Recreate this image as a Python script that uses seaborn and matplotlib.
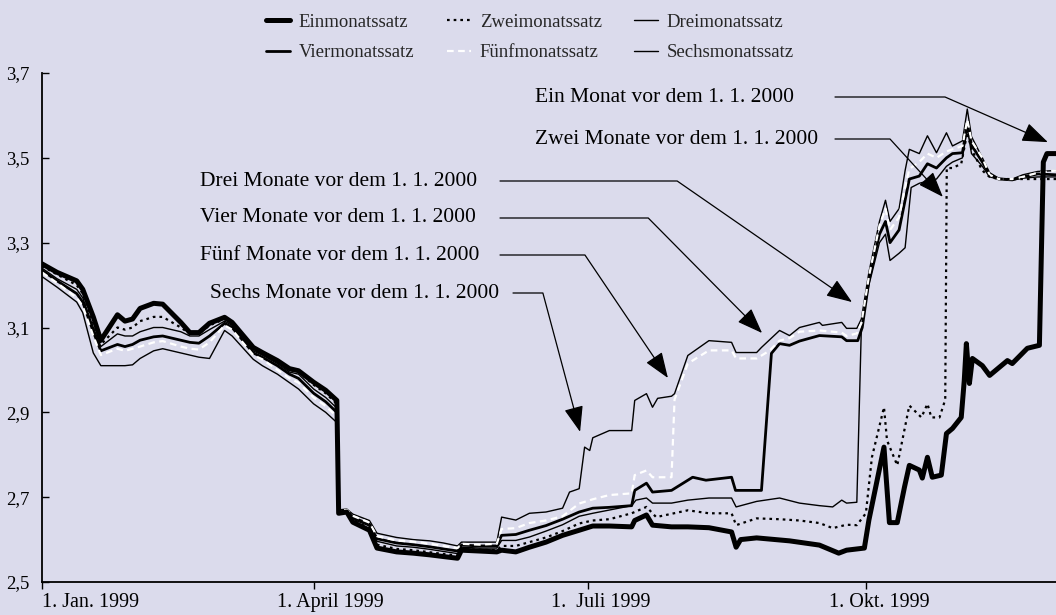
import numpy as np
import pandas as pd
import matplotlib
matplotlib.use("Agg")
import matplotlib.pyplot as plt
import matplotlib.transforms as mtransforms
from matplotlib.lines import Line2D
import seaborn as sns

# ---------------- data (days after 1 Jan 1999, rate in %) ----------------
common_days = [0, 5, 11.5, 13.5, 17, 19.5, 25, 27.5, 30, 32.5,
               37, 40, 46, 49, 52, 55.5, 60.5, 63, 70, 73,
               78, 82, 85, 90, 94, 97.7, 98.3, 101, 103, 108.5,
               111, 117.5, 123, 128.5, 133, 137.7, 139, 145, 150.7, 152.3]

ein_days = common_days + [157, 161.5, 167, 172.5, 178, 182.5, 188, 195.4, 196.4, 200.3,
                          202.3, 208.6, 214, 221, 228.5, 230, 231.5, 236.8, 247.7, 257.6,
                          264, 266.6, 272.5, 274, 279, 280.8, 283.4, 285.8, 287.4, 290.7,
                          291.7, 293.4, 295, 298, 299.7, 301.7, 304.6, 305.6, 306.3, 307.3,
                          308.3, 311.6, 314, 319.9, 321.5, 326.5, 330.5, 331.8, 333, 336]
ein_vals = [3.25, 3.23, 3.21, 3.19, 3.125, 3.07, 3.13, 3.115, 3.12, 3.145,
            3.157, 3.155, 3.112, 3.088, 3.088, 3.11, 3.124, 3.112, 3.053, 3.041,
            3.022, 3.003, 2.998, 2.971, 2.952, 2.928, 2.662, 2.665, 2.641, 2.622,
            2.58, 2.571, 2.568, 2.564, 2.56, 2.556, 2.575, 2.573, 2.571, 2.575,
            2.571, 2.582, 2.594, 2.61, 2.622, 2.632, 2.632, 2.63, 2.645, 2.658,
            2.634, 2.63, 2.63, 2.628, 2.618, 2.582, 2.6, 2.604, 2.597, 2.587,
            2.568, 2.575, 2.58, 2.646, 2.818, 2.64, 2.64, 2.724, 2.775, 2.764,
            2.745, 2.794, 2.747, 2.752, 2.85, 2.862, 2.888, 2.975, 3.062, 2.968,
            3.027, 3.01, 2.987, 3.022, 3.015, 3.051, 3.058, 3.49, 3.51, 3.51]

zwei_days = common_days + [157, 161.5, 167, 172.5, 178, 182.5, 188, 195.4, 200.3, 203.5,
                           214, 221, 228.5, 230, 236.8, 244.4, 251, 257.6, 262, 266.6,
                           270, 273, 275, 279, 280, 283.4, 287.4, 291.4, 293.4, 294.7,
                           297.4, 299.3, 299.8, 301.7, 304.6, 306.6, 308, 311.6, 314, 317,
                           325, 336]
zwei_vals = [3.245, 3.225, 3.20, 3.18, 3.11, 3.06, 3.10, 3.095, 3.10, 3.115,
             3.125, 3.125, 3.10, 3.085, 3.085, 3.105, 3.12, 3.11, 3.05, 3.04,
             3.02, 3.00, 2.995, 2.965, 2.945, 2.92, 2.665, 2.664, 2.645, 2.627,
             2.588, 2.578, 2.575, 2.57, 2.566, 2.562, 2.578, 2.576, 2.575, 2.585,
             2.585, 2.594, 2.605, 2.62, 2.638, 2.645, 2.648, 2.662, 2.677, 2.653,
             2.669, 2.662, 2.662, 2.634, 2.65, 2.648, 2.645, 2.639, 2.627, 2.635,
             2.634, 2.662, 2.794, 2.912, 2.834, 2.775, 2.916, 2.888, 2.92, 2.888,
             2.888, 2.93, 3.476, 3.476, 3.486, 3.56, 3.52, 3.47, 3.455, 3.45,
             3.45, 3.45]

drei_days = common_days + [157, 161.5, 167, 172.5, 178, 182.5, 195.4, 196.8, 200.3, 202.3,
                           208.6, 214, 221, 228.5, 230, 236.8, 244.4, 251, 257.6, 262,
                           265, 266.6, 270, 271.5, 274, 277.5, 279.5, 281, 284, 286,
                           288, 290.7, 293.4, 296.4, 299.7, 301.7, 305, 306.6, 308, 311.6,
                           314, 317, 321.5, 325, 330, 336]
drei_vals = [3.24, 3.215, 3.19, 3.17, 3.10, 3.055, 3.085, 3.08, 3.08, 3.09,
             3.10, 3.10, 3.09, 3.08, 3.08, 3.095, 3.115, 3.105, 3.045, 3.035,
             3.015, 2.995, 2.99, 2.955, 2.935, 2.91, 2.665, 2.666, 2.648, 2.632,
             2.596, 2.585, 2.582, 2.577, 2.572, 2.567, 2.582, 2.58, 2.58, 2.598,
             2.598, 2.606, 2.62, 2.635, 2.655, 2.662, 2.68, 2.693, 2.698, 2.686,
             2.686, 2.693, 2.698, 2.698, 2.677, 2.69, 2.698, 2.686, 2.68, 2.677,
             2.693, 2.686, 2.688, 3.10, 3.20, 3.30, 3.32, 3.258, 3.275, 3.288,
             3.43, 3.44, 3.445, 3.45, 3.48, 3.49, 3.50, 3.57, 3.51, 3.48,
             3.455, 3.45, 3.448, 3.452, 3.455, 3.455]

vier_days = common_days + [157, 161.5, 167, 172.5, 178, 182.5, 188, 195.4, 196.4, 200.3,
                           202.3, 208.6, 215.6, 220, 228.5, 229.8, 236.8, 238.4, 241.7, 244.4,
                           247.7, 251, 257.6, 265, 266.6, 270.3, 271.8, 274, 277.5, 279.5,
                           281, 284, 286, 287.4, 290.7, 293.4, 296.4, 299.7, 301.7, 305,
                           306.6, 308, 311.6, 314, 317, 321.5, 325, 330, 336]
vier_vals = [3.235, 3.21, 3.18, 3.16, 3.09, 3.045, 3.06, 3.055, 3.06, 3.07,
             3.078, 3.08, 3.07, 3.065, 3.063, 3.08, 3.11, 3.10, 3.04, 3.03,
             3.01, 2.99, 2.98, 2.945, 2.925, 2.90, 2.665, 2.668, 2.652, 2.636,
             2.602, 2.592, 2.588, 2.583, 2.578, 2.573, 2.587, 2.585, 2.585, 2.61,
             2.612, 2.622, 2.633, 2.648, 2.665, 2.674, 2.676, 2.68, 2.716, 2.733,
             2.712, 2.716, 2.747, 2.74, 2.747, 2.716, 2.716, 2.716, 3.039, 3.062,
             3.058, 3.068, 3.081, 3.078, 3.069, 3.069, 3.10, 3.21, 3.32, 3.35,
             3.30, 3.33, 3.40, 3.45, 3.457, 3.486, 3.476, 3.50, 3.51, 3.512,
             3.58, 3.53, 3.49, 3.46, 3.45, 3.448, 3.455, 3.462, 3.46]

fuenf_days = common_days + [157, 161.5, 167, 172.5, 178, 182.5, 188, 195.4, 196.4, 200.3,
                            202.3, 208.6, 209.6, 214, 221, 228.5, 230, 236.8, 241, 244.4,
                            247.7, 251, 257.6, 265, 266.6, 270, 271.5, 274, 277.5, 279.5,
                            281, 284, 286, 287.4, 290.7, 293.4, 296.4, 299.7, 301.7, 305,
                            306.6, 308, 311.6, 314, 317, 321.5, 325, 330, 336]
fuenf_vals = [3.23, 3.205, 3.17, 3.15, 3.08, 3.035, 3.05, 3.045, 3.05, 3.055,
              3.065, 3.068, 3.055, 3.05, 3.048, 3.065, 3.105, 3.095, 3.035, 3.025,
              3.00, 2.98, 2.97, 2.935, 2.915, 2.89, 2.668, 2.67, 2.656, 2.64,
              2.608, 2.598, 2.595, 2.59, 2.585, 2.58, 2.59, 2.588, 2.59, 2.625,
              2.627, 2.639, 2.645, 2.655, 2.685, 2.695, 2.705, 2.709, 2.752, 2.763,
              2.747, 2.747, 2.93, 3.015, 3.046, 3.046, 3.027, 3.027, 3.045, 3.069,
              3.075, 3.09, 3.093, 3.088, 3.08, 3.086, 3.11, 3.22, 3.34, 3.38,
              3.33, 3.36, 3.43, 3.474, 3.49, 3.51, 3.50, 3.515, 3.52, 3.528,
              3.59, 3.54, 3.50, 3.46, 3.45, 3.45, 3.455, 3.465, 3.47]

sechs_days = common_days + [157, 161.5, 167, 172.5, 174.8, 178, 179.8, 181.5, 182.5, 188,
                            195.4, 196.4, 200.3, 202.3, 204, 208.6, 209.6, 214, 221, 228.5,
                            230, 236.8, 238.4, 244.4, 247.7, 251, 257.6, 258.6, 265, 266.6,
                            270, 271.5, 274, 277.5, 279.5, 281, 284, 286, 287.4, 290.7,
                            293.4, 296.4, 299.7, 301.7, 305, 306.6, 308, 311.6, 314, 317,
                            321.5, 325, 330, 336]
sechs_vals = [3.22, 3.195, 3.16, 3.135, 3.04, 3.01, 3.01, 3.01, 3.012, 3.027,
              3.045, 3.05, 3.04, 3.035, 3.03, 3.027, 3.093, 3.08, 3.025, 3.01,
              2.99, 2.97, 2.955, 2.92, 2.90, 2.876, 2.67, 2.672, 2.66, 2.645,
              2.615, 2.605, 2.60, 2.597, 2.592, 2.585, 2.594, 2.594, 2.594, 2.653,
              2.646, 2.662, 2.665, 2.674, 2.712, 2.72, 2.818, 2.81, 2.84, 2.857,
              2.857, 2.928, 2.944, 2.912, 2.933, 2.938, 2.944, 3.034, 3.069, 3.065,
              3.041, 3.041, 3.053, 3.093, 3.081, 3.10, 3.112, 3.105, 3.112, 3.098,
              3.098, 3.12, 3.23, 3.35, 3.40, 3.35, 3.38, 3.47, 3.52, 3.51,
              3.552, 3.512, 3.559, 3.528, 3.54, 3.615, 3.55, 3.50, 3.465, 3.452,
              3.45, 3.46, 3.468, 3.47]

series_names = ["Einmonatssatz", "Zweimonatssatz", "Dreimonatssatz",
                "Viermonatssatz", "Fünfmonatssatz", "Sechsmonatssatz"]
tick_days = [0, 90, 181, 273]
tick_labels = ["1. Jan. 1999", "1. April 1999", "1.  Juli 1999", "1. Okt. 1999"]
y_ticks = [2.5, 2.7, 2.9, 3.1, 3.3, 3.5, 3.7]
notes = ["Ein Monat vor dem 1. 1. 2000", "Zwei Monate vor dem 1. 1. 2000",
         "Drei Monate vor dem 1. 1. 2000", "Vier Monate vor dem 1. 1. 2000",
         "Fünf Monate vor dem 1. 1. 2000", "Sechs Monate vor dem 1. 1. 2000"]

start = pd.Timestamp("1999-01-01")
def to_dates(d):
    return start + pd.to_timedelta(np.asarray(d, dtype=float), unit="D")

# ---------------- style ----------------
BG = "#DBDBEC"
sns.set_theme(style="ticks")
plt.rcParams["font.family"] = ["Liberation Serif", "DejaVu Serif"]
plt.rcParams["axes.facecolor"] = BG
plt.rcParams["figure.facecolor"] = BG

fig = plt.figure(figsize=(10.56, 6.15), dpi=100)
ax = fig.add_axes([42 / 1056, 1 - 582 / 615, 1014 / 1056, 509 / 615])
ax.set_facecolor(BG)

styles = {
    "Sechsmonatssatz": dict(color="black", lw=1.0, ls="-"),
    "Dreimonatssatz": dict(color="black", lw=1.0, ls="-"),
    "Viermonatssatz": dict(color="black", lw=2.0, ls="-"),
    "Fünfmonatssatz": dict(color="white", lw=1.6, ls=(0, (3, 2))),
    "Zweimonatssatz": dict(color="black", lw=1.6, ls=(0, (1.2, 1.8))),
    "Einmonatssatz": dict(color="black", lw=3.6, ls="-"),
}
data = {
    "Einmonatssatz": (ein_days, ein_vals),
    "Zweimonatssatz": (zwei_days, zwei_vals),
    "Dreimonatssatz": (drei_days, drei_vals),
    "Viermonatssatz": (vier_days, vier_vals),
    "Fünfmonatssatz": (fuenf_days, fuenf_vals),
    "Sechsmonatssatz": (sechs_days, sechs_vals),
}
for name in ["Sechsmonatssatz", "Dreimonatssatz", "Viermonatssatz",
             "Fünfmonatssatz", "Zweimonatssatz", "Einmonatssatz"]:
    d, v = data[name]
    st = styles[name]
    sns.lineplot(x=to_dates(d), y=v, ax=ax, color=st["color"], linewidth=st["lw"],
                 linestyle=st["ls"], estimator=None, sort=False,
                 solid_joinstyle="round", solid_capstyle="round")

ax.set_xlim(start, start + pd.Timedelta(days=336))
ax.set_ylim(2.5, 3.7)
ax.set_xticks(to_dates(tick_days))
ax.set_xticklabels(tick_labels, fontsize=14.5)
ax.set_yticks(y_ticks)
ax.set_yticklabels([f"{t:.1f}".replace(".", ",") for t in y_ticks], fontsize=13.5)
ax.set_xlabel("")
ax.set_ylabel("")
for s in ["top", "right"]:
    ax.spines[s].set_visible(False)
for s in ["left", "bottom"]:
    ax.spines[s].set_color("black")
    ax.spines[s].set_linewidth(1.3)
ax.tick_params(axis="y", direction="in", length=5, width=1, pad=9, colors="black")
ax.tick_params(axis="x", direction="out", length=5, width=1, pad=3, colors="black")

# x tick labels: left aligned, shifted left of the tick (first one starts at the tick)
for i, lab in enumerate(ax.get_xticklabels()):
    lab.set_horizontalalignment("left")
    shift = 0 if i == 0 else -37
    lab.set_transform(lab.get_transform() +
                      mtransforms.ScaledTranslation(shift / 100, 0, fig.dpi_scale_trans))

# ---------------- annotations ----------------
def fx(px):
    return (px - 42) / 1014
def fy(py):
    return (582 - py) / 509

ann = [  # text x px, text y px, line start px, tip day, tip value, angleB
    (535, 97, 835, 333.3, 3.537, -23.7),
    (535, 139, 835, 298.5, 3.408, -47.6),
    (200, 181, 500, 268.4, 3.160, -34.7),
    (200, 218, 500, 238.6, 3.087, -45.3),
    (200, 255, 500, 207.4, 2.981, -56.0),
    (210, 293, 513, 178.3, 2.854, -75.0),
]
for label, (tx, ty, lx, tday, tval, angB) in zip(notes, ann):
    ax.text(fx(tx), fy(ty), label, transform=ax.transAxes, ha="left", va="center",
            fontsize=15.5, color="black")
    ax.annotate("", xy=(to_dates([tday])[0], tval), xycoords="data",
                xytext=(fx(lx), fy(ty)), textcoords="axes fraction",
                arrowprops=dict(arrowstyle="-|>,head_length=0.8,head_width=0.3",
                                connectionstyle=f"angle,angleA=0,angleB={angB},rad=0",
                                color="black", lw=0.9, shrinkA=0, shrinkB=0,
                                mutation_scale=20))

# ---------------- legend ----------------
def handle(name):
    st = styles[name]
    return Line2D([], [], color=st["color"], lw=st["lw"], ls=st["ls"],
                  solid_capstyle="round")
order = ["Einmonatssatz", "Viermonatssatz", "Zweimonatssatz",
         "Fünfmonatssatz", "Dreimonatssatz", "Sechsmonatssatz"]
fig.legend([handle(n) for n in order], order, ncol=3, loc="upper center",
           bbox_to_anchor=(0.502, 1.005), frameon=False, fontsize=13.5,
           handlelength=1.25, handletextpad=0.48, columnspacing=1.75,
           labelspacing=0.7)

fig.savefig("out.png", dpi=100, facecolor=BG)
